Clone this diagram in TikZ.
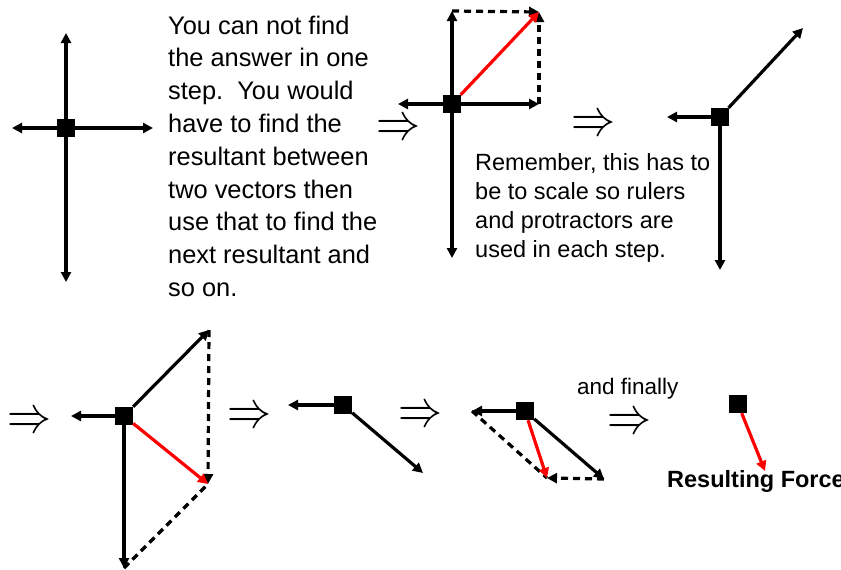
\documentclass[tikz,border=0pt]{standalone}
\usepackage{fontspec}
\setmainfont{Liberation Sans}
\usetikzlibrary{arrows.meta}

\begin{document}
\begin{tikzpicture}[x=1pt, y=-1pt,
    body/.style={fill=black, minimum size=18pt, inner sep=0pt},
    vec/.style={line width=3.2pt, -{Triangle[length=10pt,width=10pt]}},
    res/.style={vec, red},
    comp/.style={vec, dash pattern=on 7pt off 5pt},
    guide/.style={line width=3.2pt, dash pattern=on 7pt off 5pt},
    implies/.style={inner sep=0pt, xscale=4.4, yscale=5.2},
    note/.style={align=left, inner sep=0pt, anchor=north west}
]
\useasboundingbox (0,0) rectangle (841,570);

\node[body] (c1) at (66,128) {};
\coordinate (c1u) at (66,33);
\coordinate (c1d) at (66,282);
\coordinate (c1l) at (12,128);
\coordinate (c1r) at (153,128);
\draw[vec] (c1) -- (c1u);
\draw[vec] (c1) -- (c1d);
\draw[vec] (c1) -- (c1l);
\draw[vec] (c1) -- (c1r);

\node[note, font={\fontsize{25.4}{32.8}\selectfont}] (t1) at (168,15.5)
    {You can not find\\the answer in one\\step.\ \ You would\\have to find the\\resultant between\\two vectors then\\use that to find the\\next resultant and\\so on.};

\node[implies] (i1) at (398,130) {$\Rightarrow$};

\node[body] (c2) at (452,104) {};
\coordinate (c2u) at (452,11);
\coordinate (c2d) at (452,258);
\coordinate (c2l) at (398,104);
\coordinate (c2r) at (539,104);
\coordinate (c2s) at (539,12);
\draw[vec] (c2) -- (c2u);
\draw[vec] (c2) -- (c2d);
\draw[vec] (c2) -- (c2l);
\draw[vec] (c2) -- (c2r);
\draw[comp] (c2u) -- (c2s);
\draw[comp] (c2r) -- (c2s);
\draw[res] (c2) -- (c2s);

\node[implies] (i2) at (593,126) {$\Rightarrow$};

\node[note, font={\fontsize{23.5}{29}\selectfont}] (t2) at (475,153.5)
    {Remember, this has to\\be to scale so rulers\\and protractors are\\used in each step.};

\node[body] (c3) at (720,117) {};
\coordinate (c3d) at (720,270);
\coordinate (c3l) at (667,117);
\coordinate (c3a) at (803,28);
\draw[vec] (c3) -- (c3d);
\draw[vec] (c3) -- (c3l);
\draw[vec] (c3) -- (c3a);

\node[implies] (i3) at (29,423) {$\Rightarrow$};

\node[body] (c4) at (124,416) {};
\coordinate (c4l) at (71,416);
\coordinate (c4a) at (209,330);
\coordinate (c4d) at (124,568);
\coordinate (c4s) at (208,484);
\draw[vec] (c4) -- (c4l);
\draw[vec] (c4) -- (c4a);
\draw[vec] (c4) -- (c4d);
\draw[comp] (c4a) -- (c4s);
\draw[guide] (c4d) -- (c4s);
\draw[res] (c4) -- (c4s);

\node[implies] (i4) at (249,418) {$\Rightarrow$};

\node[body] (c5) at (343,405) {};
\coordinate (c5l) at (288,405);
\coordinate (c5a) at (423,473);
\draw[vec] (c5) -- (c5l);
\draw[vec] (c5) -- (c5a);

\node[implies] (i5) at (420,417) {$\Rightarrow$};

\node[body] (c6) at (525,411) {};
\coordinate (c6l) at (472,411);
\coordinate (c6a) at (604,479);
\coordinate (c6s) at (547,478);
\draw[vec] (c6) -- (c6l);
\draw[vec] (c6) -- (c6a);
\draw[guide] (c6l) -- (c6s);
\draw[comp] (c6a) -- (c6s);
\draw[res] (c6) -- (c6s);

\node[anchor=base west, inner sep=0pt, font={\fontsize{22.5}{27}\selectfont}] (t3) at (577,394) {and finally};
\node[implies] (i6) at (629,424) {$\Rightarrow$};

\node[body] (c7) at (738,404) {};
\coordinate (c7r) at (765,471);
\draw[res] (c7) -- (c7r);
\node[anchor=base west, inner sep=0pt, font={\fontsize{23.5}{28}\selectfont\bfseries}] (t4) at (667,487) {Resulting Force};
\end{tikzpicture}
\end{document}
